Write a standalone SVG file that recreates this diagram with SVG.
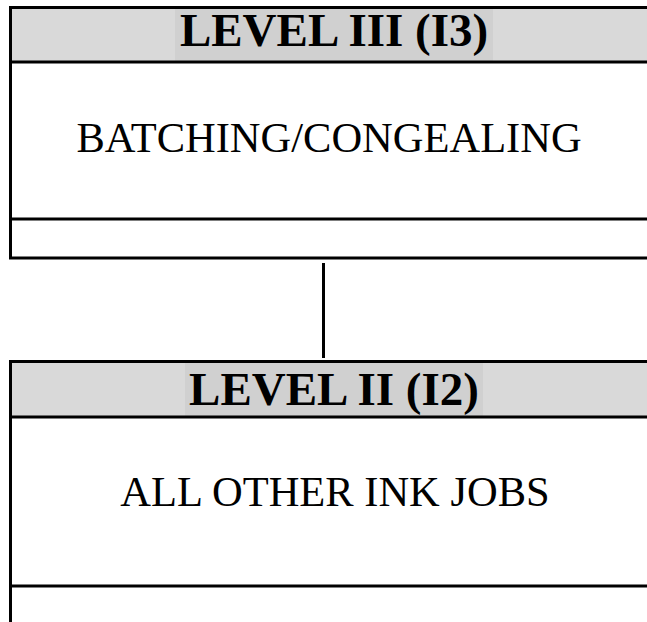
<svg xmlns="http://www.w3.org/2000/svg" width="647" height="622" viewBox="0 0 647 622">
<style>
.line{stroke:#000;stroke-width:3;fill:none}
.hdr{fill:#d9d9d9}
.hl{fill:#d0d0d0}
.title{font-family:"Liberation Serif","Times New Roman",serif;font-weight:bold;font-size:47px;fill:#000;text-anchor:middle}
.body{font-family:"Liberation Serif","Times New Roman",serif;font-size:42.5px;fill:#000;text-anchor:middle}
</style>
<rect width="647" height="622" fill="#fff"/>
<g id="level3">
<rect class="hdr" x="10" y="7" width="640" height="55"/>
<rect class="hl" x="175" y="8" width="318" height="53"/>
<text class="title" x="334" y="46">LEVEL III (I3)</text>
<text class="body" x="329" y="152">BATCHING/CONGEALING</text>
<path class="line" d="M650 7.5H10.5V258H650M10.5 62H650M10.5 219H650"/>
</g>
<g id="connectors">
<line class="line" x1="323.5" y1="263" x2="323.5" y2="358"/>
</g>
<g id="level2">
<rect class="hdr" x="10" y="361" width="640" height="56"/>
<rect class="hl" x="185" y="362" width="298" height="54"/>
<text class="title" x="334" y="405">LEVEL II (I2)</text>
<text class="body" x="335" y="506">ALL OTHER INK JOBS</text>
<path class="line" d="M650 361.5H10.5V625M10.5 417H650M10.5 586H650"/>
</g>
</svg>
